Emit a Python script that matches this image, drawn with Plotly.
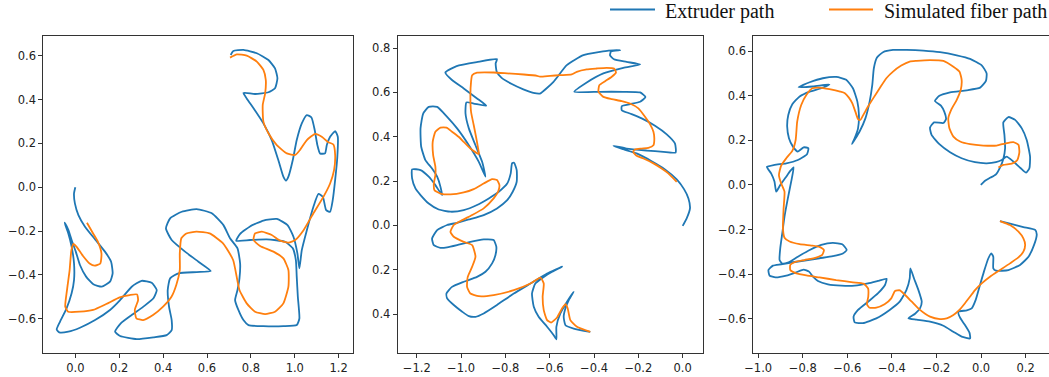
import plotly.graph_objects as go

BLUE = "#1f77b4"
ORANGE = "#ff7f0e"

# ---------------- Panel 1 ----------------
p1_ext_x = [0.000,-0.006,-0.002,0.014,0.044,0.090,0.135,0.163,0.170,0.158,0.120,0.082,0.049,0.021,0.002,-0.017,-0.032,-0.049,
            -0.032,-0.017,-0.006,-0.006,-0.017,-0.040,-0.070,-0.085,-0.073,-0.032,0.021,0.090,0.158,0.204,0.257,0.302,0.348,0.371,
            0.356,0.310,0.257,0.207,0.181,0.204,0.280,0.356,0.416,0.439,0.439,0.427,0.421,0.432,0.470,0.553,0.617,0.561,0.500,
            0.439,0.413,0.432,0.485,0.553,0.622,0.675,0.705,0.739,0.751,0.748,0.739,0.728,0.743,0.766,0.789,0.857,0.948,1.009,
            1.021,1.014,1.009,1.005,0.991,0.956,0.872,0.796,0.733,0.751,0.796,0.857,0.918,0.967,0.994,1.012,1.021,1.032,1.055,
            1.085,1.108,1.128,1.143,1.161,1.173,1.184,1.194,1.196,1.184,1.161,1.146,1.138,1.115,1.103,1.091,1.076,1.055,1.032,
            1.009,0.991,0.971,0.960,0.948,0.925,0.895,0.857,0.812,0.781,0.766,0.819,0.880,0.910,0.921,0.910,0.880,0.827,0.766,
            0.720,0.708]
p1_ext_y = [0.000,-0.028,-0.074,-0.127,-0.180,-0.238,-0.294,-0.340,-0.393,-0.431,-0.454,-0.443,-0.408,-0.355,-0.294,-0.241,-0.195,-0.162,
            -0.211,-0.271,-0.347,-0.424,-0.484,-0.553,-0.614,-0.649,-0.662,-0.659,-0.641,-0.606,-0.560,-0.515,-0.454,-0.427,-0.436,-0.469,
            -0.507,-0.545,-0.583,-0.621,-0.659,-0.679,-0.693,-0.685,-0.675,-0.652,-0.606,-0.545,-0.469,-0.416,-0.393,-0.387,-0.382,-0.340,-0.294,
            -0.241,-0.188,-0.142,-0.112,-0.100,-0.119,-0.173,-0.233,-0.279,-0.348,-0.416,-0.469,-0.515,-0.560,-0.606,-0.629,-0.634,-0.634,-0.629,
            -0.599,-0.500,-0.409,-0.333,-0.279,-0.249,-0.238,-0.241,-0.244,-0.213,-0.179,-0.152,-0.145,-0.173,-0.226,-0.302,-0.370,-0.287,-0.196,
            -0.089,-0.031,-0.044,-0.105,-0.112,-0.059,0.033,0.139,0.230,0.256,0.230,0.192,0.154,0.154,0.192,0.260,0.318,0.329,0.291,
            0.215,0.124,0.048,0.030,0.048,0.124,0.215,0.291,0.360,0.405,0.430,0.425,0.433,0.451,0.497,0.542,0.580,0.611,0.626,
            0.621,0.603]
p1_fib_x = [0.053,0.081,0.103,0.119,0.114,0.088,0.065,0.035,0.005,-0.008,-0.018,-0.026,-0.038,-0.046,-0.033,0.020,0.081,0.141,0.202,
            0.248,0.281,0.286,0.271,0.278,0.309,0.354,0.400,0.438,0.460,0.476,0.476,0.483,0.506,0.552,0.612,0.673,0.719,0.748,0.781,
            0.819,0.865,0.910,0.948,0.971,0.971,0.948,0.903,0.842,0.812,0.819,0.850,0.895,0.933,0.971,1.002,1.040,1.085,1.131,1.161,
            1.179,1.184,1.176,1.153,1.123,1.093,1.055,1.024,1.002,0.964,0.918,0.880,0.857,0.854,0.865,0.868,0.857,0.827,0.781,0.736,0.705]
p1_fib_y = [-0.162,-0.211,-0.249,-0.302,-0.348,-0.358,-0.348,-0.314,-0.271,-0.259,-0.287,-0.378,-0.469,-0.545,-0.568,-0.568,-0.560,-0.533,-0.503,
            -0.492,-0.489,-0.515,-0.560,-0.598,-0.606,-0.583,-0.545,-0.500,-0.446,-0.378,-0.302,-0.233,-0.211,-0.203,-0.211,-0.256,-0.332,-0.469,-0.530,
            -0.568,-0.579,-0.568,-0.530,-0.454,-0.378,-0.325,-0.294,-0.268,-0.241,-0.211,-0.203,-0.218,-0.244,-0.253,-0.241,-0.196,-0.119,-0.043,0.017,
            0.078,0.147,0.195,0.205,0.230,0.243,0.215,0.170,0.147,0.154,0.192,0.246,0.299,0.375,0.428,0.489,0.535,0.573,0.600,0.606,0.591]

# ---------------- Panel 2 ----------------
p2_ext_x = [0.000,0.018,0.033,0.026,0.006,-0.027,-0.080,-0.140,-0.208,-0.268,-0.313,-0.253,-0.162,-0.087,-0.032,-0.035,-0.072,-0.125,-0.185,
            -0.238,-0.275,-0.275,-0.238,-0.192,-0.168,-0.192,-0.268,-0.373,-0.489,-0.433,-0.358,-0.268,-0.192,-0.253,-0.310,-0.328,-0.323,-0.283,
            -0.335,-0.373,-0.448,-0.523,-0.583,-0.644,-0.674,-0.719,-0.771,-0.817,-0.839,-0.844,-0.838,-0.929,-1.020,-1.071,-1.041,-0.988,-0.928,
            -0.886,-0.943,-0.976,-0.980,-0.965,-0.935,-0.905,-0.890,-0.920,-0.965,-1.018,-1.063,-1.108,-1.146,-1.171,-1.183,-1.180,-1.161,-1.131,
            -1.108,-1.093,-1.086,-1.116,-1.146,-1.183,-1.221,-1.221,-1.206,-1.183,-1.146,-1.101,-1.048,-0.988,-0.928,-0.875,-0.830,-0.792,-0.776,
            -0.770,-0.761,-0.749,-0.749,-0.767,-0.792,-0.838,-0.898,-0.965,-1.018,-1.063,-1.108,-1.131,-1.123,-1.093,-1.063,-1.018,-0.958,-0.898,
            -0.853,-0.841,-0.845,-0.860,-0.890,-0.928,-0.988,-1.041,-1.066,-1.063,-1.033,-0.995,-0.965,-0.935,-0.898,-0.838,-0.762,-0.687,-0.612,
            -0.544,-0.589,-0.627,-0.665,-0.680,-0.672,-0.650,-0.612,-0.582,-0.570,-0.570,-0.552,-0.522,-0.492,-0.514,-0.529,-0.537,-0.529,-0.492,
            -0.417]
p2_ext_y = [-0.002,0.032,0.077,0.122,0.164,0.208,0.253,0.290,0.325,0.344,0.359,0.347,0.338,0.332,0.329,0.370,0.411,0.450,0.483,
            0.505,0.520,0.538,0.547,0.558,0.579,0.600,0.603,0.603,0.603,0.645,0.686,0.711,0.726,0.738,0.750,0.768,0.785,0.791,
            0.789,0.783,0.768,0.723,0.648,0.595,0.598,0.614,0.638,0.666,0.693,0.731,0.750,0.737,0.719,0.690,0.656,0.618,0.573,
            0.540,0.550,0.555,0.505,0.438,0.362,0.287,0.220,0.287,0.362,0.438,0.490,0.535,0.535,0.505,0.438,0.355,0.295,0.257,
            0.220,0.174,0.137,0.182,0.220,0.250,0.253,0.212,0.167,0.137,0.099,0.072,0.062,0.069,0.092,0.122,0.152,0.189,0.235,
            0.280,0.283,0.250,0.197,0.152,0.114,0.077,0.047,0.027,0.012,0.002,-0.021,-0.059,-0.089,-0.101,-0.099,-0.089,-0.074,-0.063,
            -0.066,-0.096,-0.134,-0.171,-0.209,-0.232,-0.254,-0.277,-0.307,-0.329,-0.359,-0.389,-0.409,-0.412,-0.397,-0.359,-0.307,-0.262,-0.217,
            -0.186,-0.209,-0.232,-0.262,-0.307,-0.367,-0.412,-0.457,-0.495,-0.514,-0.457,-0.397,-0.344,-0.299,-0.337,-0.374,-0.412,-0.450,-0.465,
            -0.480]
p2_fib_x = [-0.027,-0.065,-0.095,-0.132,-0.177,-0.208,-0.223,-0.215,-0.185,-0.155,-0.132,-0.128,-0.132,-0.147,-0.170,-0.200,-0.238,-0.275,
            -0.320,-0.358,-0.380,-0.376,-0.350,-0.320,-0.301,-0.310,-0.343,-0.388,-0.433,-0.478,-0.501,-0.553,-0.598,-0.644,-0.657,-0.717,-0.792,
            -0.853,-0.928,-0.950,-0.955,-0.958,-0.955,-0.943,-0.931,-0.923,-0.920,-0.958,-0.988,-1.011,-1.041,-1.066,-1.093,-1.116,-1.128,-1.126,
            -1.116,-1.116,-1.123,-1.120,-1.093,-1.048,-0.988,-0.943,-0.898,-0.860,-0.838,-0.827,-0.833,-0.853,-0.898,-0.950,-0.995,-1.033,-1.048,
            -1.033,-0.988,-0.950,-0.935,-0.950,-0.970,-0.973,-0.958,-0.920,-0.853,-0.762,-0.687,-0.642,-0.627,-0.632,-0.627,-0.612,-0.594,-0.567,
            -0.544,-0.529,-0.519,-0.507,-0.477,-0.417]
p2_fib_y = [0.197,0.235,0.257,0.280,0.302,0.314,0.332,0.343,0.347,0.350,0.362,0.392,0.423,0.456,0.490,0.528,0.550,0.561,
            0.570,0.580,0.603,0.633,0.651,0.671,0.690,0.708,0.711,0.708,0.704,0.693,0.681,0.678,0.675,0.671,0.675,0.681,0.686,
            0.690,0.689,0.678,0.648,0.588,0.513,0.453,0.392,0.347,0.322,0.347,0.377,0.400,0.423,0.441,0.441,0.423,0.377,0.317,
            0.265,0.227,0.189,0.159,0.144,0.140,0.149,0.164,0.189,0.209,0.205,0.182,0.152,0.122,0.077,0.047,0.024,0.002,-0.029,
            -0.051,-0.074,-0.089,-0.141,-0.186,-0.232,-0.277,-0.307,-0.319,-0.314,-0.292,-0.262,-0.235,-0.262,-0.322,-0.382,-0.427,-0.438,-0.415,
            -0.374,-0.355,-0.374,-0.427,-0.457,-0.480]

# ---------------- Panel 3 ----------------
p3_ext_x = [-0.001,0.018,0.043,0.067,0.085,0.100,0.108,0.105,0.100,0.123,0.153,0.183,0.205,0.220,0.217,0.202,0.178,0.145,0.115,0.093,
            0.067,0.025,-0.027,-0.087,-0.139,-0.187,-0.222,-0.229,-0.211,-0.169,-0.157,-0.165,-0.180,-0.207,-0.187,-0.139,-0.064,-0.004,
            0.022,0.025,0.004,-0.049,-0.109,-0.184,-0.259,-0.334,-0.395,-0.440,-0.467,-0.481,-0.488,-0.500,-0.519,-0.545,-0.579,-0.567,
            -0.552,-0.548,-0.555,-0.575,-0.605,-0.650,-0.710,-0.769,-0.819,-0.754,-0.680,-0.717,-0.769,-0.814,-0.847,-0.865,-0.870,-0.862,
            -0.844,-0.822,-0.796,-0.775,-0.781,-0.822,-0.874,-0.927,-0.961,-0.942,-0.927,-0.919,-0.901,-0.877,-0.856,-0.841,-0.852,-0.867,
            -0.882,-0.892,-0.901,-0.904,-0.892,-0.867,-0.822,-0.769,-0.717,-0.665,-0.623,-0.603,-0.620,-0.665,-0.725,-0.784,-0.844,-0.897,
            -0.934,-0.954,-0.949,-0.922,-0.874,-0.829,-0.796,-0.772,-0.754,-0.732,-0.687,-0.627,-0.567,-0.507,-0.463,-0.424,-0.431,-0.463,
            -0.507,-0.552,-0.572,-0.567,-0.530,-0.470,-0.410,-0.365,-0.335,-0.320,-0.317,-0.301,-0.281,-0.266,-0.274,-0.296,-0.326,-0.289,
            -0.229,-0.169,-0.124,-0.087,-0.049,-0.052,-0.072,-0.094,-0.102,-0.064,-0.042,-0.024,-0.007,0.013,0.033,0.046,0.055,0.055,
            0.067,0.123,0.175,0.213,0.238,0.250,0.243,0.190,0.130,0.085]
p3_ext_y = [0.000,0.019,0.033,0.048,0.078,0.117,0.165,0.225,0.281,0.305,0.292,0.254,0.202,0.127,0.075,0.055,0.075,0.105,0.127,0.112,
            0.102,0.097,0.102,0.120,0.147,0.183,0.225,0.257,0.281,0.278,0.296,0.329,0.356,0.377,0.400,0.416,0.425,0.437,
            0.467,0.501,0.536,0.566,0.582,0.596,0.603,0.606,0.606,0.596,0.572,0.524,0.449,0.374,0.299,0.240,0.184,0.210,
            0.254,0.314,0.374,0.434,0.472,0.485,0.479,0.461,0.439,0.442,0.451,0.434,0.419,0.397,0.362,0.314,0.262,0.210,
            0.172,0.150,0.169,0.165,0.138,0.112,0.097,0.090,0.081,0.052,0.015,-0.030,0.000,0.033,0.063,0.079,0.015,-0.060,
            -0.142,-0.217,-0.284,-0.337,-0.353,-0.349,-0.322,-0.292,-0.269,-0.260,-0.266,-0.292,-0.308,-0.320,-0.329,-0.338,-0.347,-0.356,
            -0.362,-0.382,-0.407,-0.415,-0.407,-0.392,-0.380,-0.389,-0.412,-0.431,-0.446,-0.452,-0.452,-0.442,-0.431,-0.421,-0.449,-0.487,
            -0.524,-0.561,-0.591,-0.617,-0.620,-0.599,-0.561,-0.524,-0.472,-0.419,-0.374,-0.419,-0.472,-0.524,-0.554,-0.578,-0.599,-0.605,
            -0.614,-0.632,-0.659,-0.681,-0.689,-0.663,-0.629,-0.596,-0.569,-0.563,-0.554,-0.516,-0.457,-0.389,-0.329,-0.307,-0.322,-0.374,
            -0.385,-0.382,-0.359,-0.322,-0.269,-0.222,-0.202,-0.189,-0.174,-0.162]
p3_fib_x = [0.085,0.130,0.168,0.190,0.198,0.190,0.168,0.130,0.085,0.040,0.003,-0.027,-0.049,-0.072,-0.097,-0.124,-0.154,-0.184,-0.229,
            -0.274,-0.311,-0.341,-0.364,-0.386,-0.403,-0.433,-0.470,-0.500,-0.512,-0.506,-0.507,-0.527,-0.575,-0.650,-0.725,-0.784,-0.829,
            -0.856,-0.856,-0.837,-0.792,-0.740,-0.713,-0.705,-0.725,-0.762,-0.814,-0.859,-0.882,-0.889,-0.886,-0.882,-0.897,-0.907,-0.897,
            -0.874,-0.847,-0.832,-0.825,-0.807,-0.784,-0.757,-0.725,-0.680,-0.632,-0.611,-0.593,-0.578,-0.564,-0.552,-0.542,-0.527,-0.507,
            -0.482,-0.455,-0.425,-0.395,-0.358,-0.320,-0.289,-0.229,-0.169,-0.124,-0.097,-0.087,-0.091,-0.109,-0.132,-0.147,-0.142,-0.124,
            -0.094,-0.049,0.010,0.070,0.108,0.145,0.168,0.172,0.163,0.138,0.100,0.078]
p3_fib_y = [-0.162,-0.180,-0.210,-0.240,-0.269,-0.299,-0.325,-0.352,-0.382,-0.412,-0.442,-0.472,-0.501,-0.531,-0.561,-0.584,-0.599,-0.602,-0.591,
            -0.561,-0.524,-0.494,-0.473,-0.476,-0.509,-0.536,-0.551,-0.551,-0.536,-0.501,-0.464,-0.443,-0.437,-0.427,-0.415,-0.406,-0.397,
            -0.382,-0.359,-0.347,-0.337,-0.326,-0.314,-0.292,-0.278,-0.272,-0.266,-0.254,-0.237,-0.195,-0.105,-0.030,0.007,0.045,0.087,
            0.120,0.153,0.202,0.284,0.359,0.404,0.434,0.437,0.430,0.419,0.412,0.392,0.367,0.329,0.296,0.292,0.317,0.352,
            0.392,0.434,0.479,0.509,0.536,0.554,0.557,0.560,0.557,0.531,0.509,0.472,0.427,0.382,0.341,0.299,0.254,0.217,
            0.195,0.183,0.177,0.177,0.186,0.192,0.180,0.147,0.112,0.096,0.090,0.078]

# ---------------- Axes ----------------
p1_xticks = [0.0, 0.2, 0.4, 0.6, 0.8, 1.0, 1.2]
p1_yticks = [-0.6, -0.4, -0.2, 0.0, 0.2, 0.4, 0.6]
p2_xticks = [-1.2, -1.0, -0.8, -0.6, -0.4, -0.2, 0.0]
p2_yticks = [-0.4, -0.2, 0.0, 0.2, 0.4, 0.6, 0.8]
p2_ytext = ["0.4", "0.2", "0.0", "0.2", "0.4", "0.6", "0.8"]
p3_xticks = [-1.0, -0.8, -0.6, -0.4, -0.2, 0.0, 0.2]
p3_yticks = [-0.6, -0.4, -0.2, 0.0, 0.2, 0.4, 0.6]

legend_labels = ["Extruder path", "Simulated fiber path"]


def lab(v):
    s = f"{abs(v):.1f}"
    return ("\u2212" + s) if v < 0 else s


W, H = 1049, 377
fig = go.Figure()

panels = [
    (p1_ext_x, p1_ext_y, p1_fib_x, p1_fib_y, "x", "y"),
    (p2_ext_x, p2_ext_y, p2_fib_x, p2_fib_y, "x2", "y2"),
    (p3_ext_x, p3_ext_y, p3_fib_x, p3_fib_y, "x3", "y3"),
]
for ex, ey, fx, fy, xa, ya in panels:
    fig.add_trace(go.Scatter(x=ex, y=ey, mode="lines", xaxis=xa, yaxis=ya, showlegend=False,
                             hoverinfo="skip",
                             line=dict(color=BLUE, width=1.8, shape="spline", smoothing=0.5)))
    fig.add_trace(go.Scatter(x=fx, y=fy, mode="lines", xaxis=xa, yaxis=ya, showlegend=False,
                             hoverinfo="skip",
                             line=dict(color=ORANGE, width=1.8, shape="spline", smoothing=0.5)))

ydom = [1 - 352.7 / H, 1 - 35.7 / H]
axis_common = dict(showgrid=False, zeroline=False, showline=True, linecolor="#333333", linewidth=1,
                   ticks="outside", ticklen=4, tickwidth=1, tickcolor="#333333", automargin=False,
                   tickfont=dict(family="DejaVu Sans", size=11.5, color="#222222"))

fig.update_layout(
    template="none",
    width=W, height=H, margin=dict(l=0, r=0, t=0, b=0, pad=0), autosize=False,
    paper_bgcolor="white", plot_bgcolor="white", showlegend=False,
    xaxis=dict(domain=[43.3 / W, 352.7 / W], range=[-0.146, 1.264], anchor="y", mirror=True,
               tickvals=p1_xticks, ticktext=[lab(v) for v in p1_xticks], **axis_common),
    yaxis=dict(domain=ydom, range=[-0.755, 0.691], anchor="x", mirror=True,
               tickvals=p1_yticks, ticktext=[lab(v) for v in p1_yticks], **axis_common),
    xaxis2=dict(domain=[397.7 / W, 703.3 / W], range=[-1.286, 0.093], anchor="y2", mirror=True,
                tickvals=p2_xticks, ticktext=[lab(v) for v in p2_xticks], **axis_common),
    yaxis2=dict(domain=ydom, range=[-0.574, 0.856], anchor="x2", mirror=True,
                tickvals=p2_yticks, ticktext=p2_ytext, **axis_common),
    xaxis3=dict(domain=[753.3 / W, 1.0], range=[-1.022, 0.305], anchor="y3", mirror=True,
                tickvals=p3_xticks, ticktext=[lab(v) for v in p3_xticks], **axis_common),
    yaxis3=dict(domain=ydom, range=[-0.753, 0.670], anchor="x3", mirror=False,
                tickvals=p3_yticks, ticktext=[lab(v) for v in p3_yticks], **axis_common),
)

# Manual legend (line samples + text)
leg_y = 1 - 9.5 / H
txt_y = 1 - 11.5 / H
for (x0, x1, tx), col, txt in zip([(610, 655, 664), (829, 873, 883)], [BLUE, ORANGE], legend_labels):
    fig.add_shape(type="line", xref="paper", yref="paper", x0=x0 / W, x1=x1 / W, y0=leg_y, y1=leg_y,
                  line=dict(color=col, width=2.2))
    fig.add_annotation(xref="paper", yref="paper", x=tx / W, y=txt_y, text=txt, showarrow=False,
                       xanchor="left", yanchor="middle", borderpad=0,
                       font=dict(family="Liberation Serif", size=20, color="#111111"))

fig.write_html("out.html",
               config={"displayModeBar": False, "staticPlot": True},
               post_script="document.body.style.margin='0';document.body.style.padding='0';"
                           "document.body.style.overflow='hidden';")
